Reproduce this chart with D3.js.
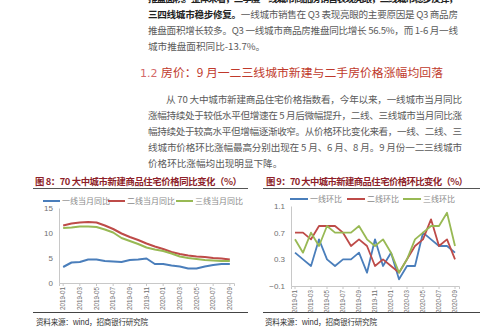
<!DOCTYPE html>
<html><head><meta charset="utf-8">
<script src="https://cdn.jsdelivr.net/npm/d3@7"></script>
<style>
html,body{margin:0;padding:0;background:#fff;}
svg{display:block;}
</style></head>
<body>
<svg id="c" width="499" height="334"></svg>
<script>
// ---------- data ----------
const months = ["2019-01","2019-02","2019-03","2019-04","2019-05","2019-06","2019-07","2019-08","2019-09","2019-10","2019-11","2019-12",
                "2020-01","2020-02","2020-03","2020-04","2020-05","2020-06","2020-07","2020-08","2020-09"];
const tickMonths = ["2019-01","2019-03","2019-05","2019-07","2019-09","2019-11","2020-01","2020-03","2020-05","2020-07","2020-09"];
// Chart 8: YoY (%)
const yoyTier1 = [3.2,4.1,4.2,4.7,4.7,4.4,4.3,4.2,4.6,4.7,4.9,3.8,3.8,3.5,3.3,2.9,2.9,3.3,3.6,3.8,3.8];
const yoyTier2 = [11.5,11.9,12.1,12.2,12.1,11.5,10.8,9.9,9.2,8.6,7.9,7.3,6.8,6.2,5.8,5.5,5.3,5.2,5.0,4.9,4.7];
const yoyTier3 = [11.0,11.1,11.3,11.3,11.2,10.7,10.1,9.0,8.4,7.8,7.1,6.7,6.4,5.9,5.3,5.0,4.8,4.6,4.5,4.4,4.4];
const yoyTicks = [0,5,10,15];
const yoyNames = ["一线当月同比","二线当月同比","三线当月同比"];
// Chart 9: MoM (%)
const momTier1 = [0.4,0.3,0.2,0.6,0.3,0.2,0.3,0.3,0.4,0.1,0.6,0.2,0.4,0.0,0.2,0.2,0.7,0.6,0.5,0.5,0.4];
const momTier2 = [0.7,0.7,0.6,0.8,0.8,0.8,0.7,0.5,0.6,0.5,0.2,0.3,0.2,0.1,0.3,0.5,0.6,0.9,0.5,0.6,0.3];
const momTier3 = [0.6,0.4,0.7,0.5,0.8,0.7,0.7,0.7,0.8,0.6,0.5,0.6,0.4,0.1,0.3,0.6,0.7,0.8,0.8,1.0,0.5];
const momTicks = [-0.1,0.3,0.7,1.1];
const momNames = ["一线环比","二线环比","三线环比"];
const colors = ["#4a7ebb","#be4b48","#98b954"];

const topLines = [
  {t:"推盘面积。整体来看，三季度一线城市商品房销售表现亮眼，二线城市稳步反弹，", b:true},
  {pre:"三四线城市稳步修复。", t:"一线城市销售在 Q3 表现亮眼的主要原因是 Q3 商品房"},
  {t:"推盘面积增长较多。Q3 一线城市商品房推盘同比增长 56.5%，而 1-6 月一线"},
  {t:"城市推盘面积同比-13.7%。", last:true}
];
const sectionTitle = "房价：9 月一二三线城市新建与二手房价格涨幅均回落";
const paraLines = [
  "从 70 大中城市新建商品住宅价格指数看，今年以来，一线城市当月同比",
  "涨幅持续处于较低水平但增速在 5 月后微幅提升，二线、三线城市当月同比涨",
  "幅持续处于较高水平但增幅逐渐收窄。从价格环比变化来看，一线、二线、三",
  "线城市价格环比涨幅最高分别出现在 5 月、6 月、8 月。9 月份一二三线城市",
  "价格环比涨幅均出现明显下降。"
];
const titles = ["图 8：70 大中城市新建商品住宅价格同比变化（%）","图 9：70 大中城市新建商品住宅价格环比变化（%）"];
const sourceText = "资料来源：wind，招商银行研究院";

// ---------- drawing ----------
const svg = d3.select("#c");
const CJK = "'Noto Sans CJK SC','Noto Sans',sans-serif";
const bodyColor = "#5a5a5a";

// top text block
const tl = [-1.5, 14, 30, 46];
topLines.forEach((L,i)=>{
  const t = svg.append("text").attr("x",148).attr("y",tl[i]+3.5)
    .style("font-family",CJK).style("font-size","9.6px").attr("fill",bodyColor);
  if (L.pre){
    t.append("tspan").text(L.pre).attr("font-weight","bold").attr("fill","#222");
    t.append("tspan").text(L.t);
  } else {
    t.text(L.t);
    if (L.b) t.attr("font-weight","bold").attr("fill","#222");
  }
  if (!L.last) t.attr("textLength",310).attr("lengthAdjust","spacing");
});

// section title
const st = svg.append("text").attr("x",140).attr("y",76.5)
  .style("font-family",CJK).style("font-size","11.8px").attr("fill","#c0392b")
  .attr("textLength",303).attr("lengthAdjust","spacingAndGlyphs");
st.append("tspan").text("1.2 ").attr("fill","#d46a6a").style("font-family","'DejaVu Sans',sans-serif").style("font-size","11px");
st.append("tspan").text(sectionTitle);

// paragraph
const pl = [99, 115, 131, 147, 163];
paraLines.forEach((s,i)=>{
  const x = i===0 ? 166 : 148;
  const t = svg.append("text").attr("x",x).attr("y",pl[i]+3.5)
    .style("font-family",CJK).style("font-size","9.6px").attr("fill",bodyColor).text(s);
  if (i < paraLines.length-1) t.attr("textLength",462-x).attr("lengthAdjust","spacing");
});

function drawChart(cfg){
  const g = svg.append("g");
  // title
  g.append("text").attr("x",cfg.titleX).attr("y",185).text(cfg.title)
    .style("font-family",CJK).style("font-size","9.4px").attr("font-weight","bold").attr("fill","#8e1f2a")
    .attr("textLength",cfg.titleW).attr("lengthAdjust","spacing");
  g.append("line").attr("x1",cfg.colX0).attr("x2",cfg.colX1).attr("y1",188.5).attr("y2",188.5)
    .attr("stroke","#555").attr("stroke-width",1);
  // legend
  cfg.names.forEach((n,i)=>{
    const lx = cfg.legX[i];
    g.append("line").attr("x1",lx).attr("x2",lx+cfg.legLine).attr("y1",cfg.legY).attr("y2",cfg.legY)
      .attr("stroke",colors[i]).attr("stroke-width",2);
    g.append("text").attr("x",lx+cfg.legLine+2).attr("y",cfg.legY+3).text(n)
      .style("font-family",CJK).style("font-size","8px").attr("fill","#8a8a8a");
  });
  const x = d3.scaleBand().domain(months).range([cfg.x0,cfg.x1]);
  const y = d3.scaleLinear().domain(cfg.domain).range([cfg.yB,cfg.yT]);
  // y axis
  const ya = g.append("g").attr("transform",`translate(${cfg.x0},0)`)
    .call(d3.axisLeft(y).tickValues(cfg.ticks).tickSize(0).tickPadding(6).tickFormat(cfg.fmt));
  ya.select(".domain").attr("stroke","#c8c8c8");
  ya.selectAll("text").style("font-family","'Liberation Sans',Arial,sans-serif").style("font-size","8px").attr("fill","#707070");
  // x axis
  const xa = g.append("g").attr("transform",`translate(0,${cfg.yB})`)
    .call(d3.axisBottom(x).tickValues(tickMonths).tickSize(3).tickPadding(3));
  xa.select(".domain").attr("stroke","#c8c8c8");
  xa.selectAll("line").attr("stroke","#c8c8c8");
  xa.selectAll("text").attr("transform","rotate(-90)").attr("text-anchor","end")
    .attr("x",-4).attr("y",0).attr("dy","0.32em")
    .style("font-family","'Liberation Sans',Arial,sans-serif").style("font-size","6.3px").attr("fill","#707070");
  xa.selectAll(".tick").attr("transform",d=>`translate(${x(d)+x.bandwidth()/2},0)`);
  // lines
  const line = d3.line().x((d,i)=>x(months[i])+x.bandwidth()/2).y(d=>y(d));
  cfg.series.forEach((s,i)=>{
    g.append("path").datum(s).attr("d",line).attr("fill","none")
      .attr("stroke",colors[i]).attr("stroke-width",cfg.sw).attr("stroke-linejoin","round");
  });
  // bottom rule + source
  g.append("line").attr("x1",cfg.colX0).attr("x2",cfg.colX1).attr("y1",312.5).attr("y2",312.5)
    .attr("stroke","#444").attr("stroke-width",1);
  g.append("text").attr("x",cfg.srcX).attr("y",325).text(sourceText)
    .style("font-family",CJK).style("font-size","7.6px").attr("fill","#333")
    .attr("textLength",112).attr("lengthAdjust","spacing");
}

drawChart({title:titles[0], titleX:35, titleW:207, colX0:33, colX1:248, legX:[43,108,176], legLine:17, legY:201,
  names:yoyNames, x0:59, x1:234, yT:208, yB:283, domain:[0,15], ticks:yoyTicks, fmt:d3.format("d"),
  series:[yoyTier1,yoyTier2,yoyTier3], sw:2, srcX:36});
drawChart({title:titles[1], titleX:266, titleW:202, colX0:263, colX1:480, legX:[290,347,403], legLine:18, legY:199,
  names:momNames, x0:291, x1:459, yT:206, yB:286, domain:[-0.1,1.1], ticks:momTicks, fmt:d3.format(".1f"),
  series:[momTier1,momTier2,momTier3], sw:1.8, srcX:265});
</script>
</body></html>
